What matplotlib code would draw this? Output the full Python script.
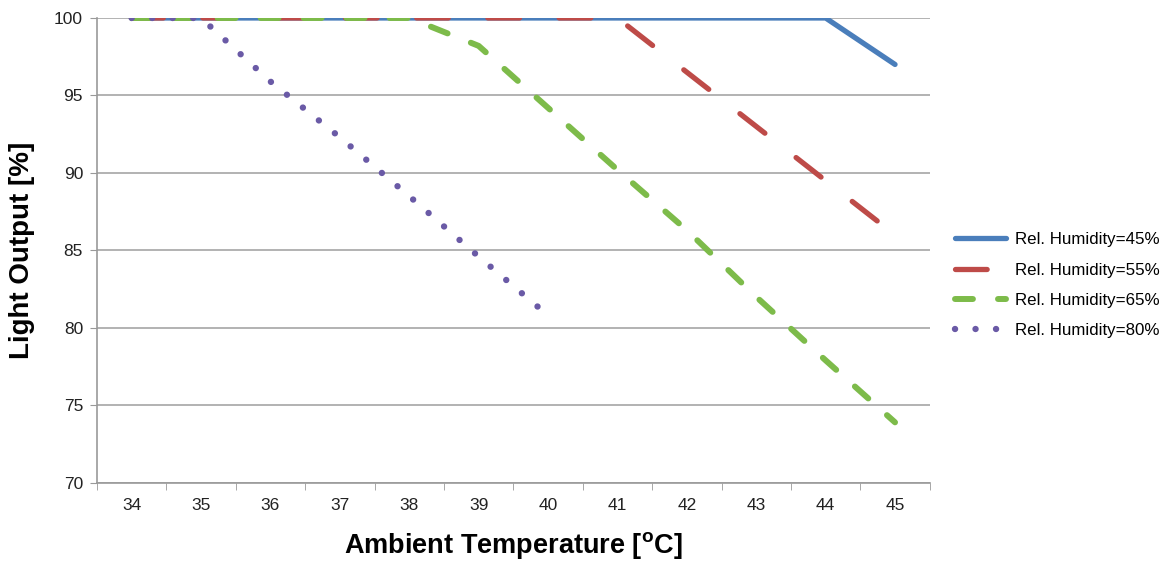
import matplotlib.pyplot as plt
from matplotlib.ticker import FixedLocator

plt.rcParams['font.family'] = ['Liberation Sans', 'DejaVu Sans']

temps = [34, 35, 36, 37, 38, 39, 40, 41, 42, 43, 44, 45]
rh45 = [100, 100, 100, 100, 100, 100, 100, 100, 100, 100, 100, 97.0]
rh55 = [100, 100, 100, 100, 100, 100, 100, 100, 96.5, 93.0, 89.5, 86.0]
rh65 = [100, 100, 100, 100, 100, 98.2, 94.2, 90.2, 86.3, 82.0, 77.9, 73.9]
temps80 = [34, 35, 36, 37, 38, 39, 40]
rh80 = [100, 100, 95.9, 92.3, 88.5, 84.6, 80.8]
labels = ['Rel. Humidity=45%', 'Rel. Humidity=55%',
          'Rel. Humidity=65%', 'Rel. Humidity=80%']

fig = plt.figure(figsize=(11.68, 5.62), dpi=100)
ax = fig.add_axes([0.083, 0.141, 0.713, 0.827])

ax.plot(temps, rh45, color='#4a7ebb', lw=3.8, solid_capstyle='round',
        label=labels[0], zorder=3)
ax.plot(temps, rh55, color='#be4b48', lw=3.8, dash_capstyle='round',
        dashes=(6, 7.5), label=labels[1], zorder=4)
ax.plot(temps, rh65, color='#7dbb4a', lw=4.3, dash_capstyle='round',
        dashes=(3, 4.2), label=labels[2], zorder=5)
ax.plot(temps80, rh80, color='#6a5aa6', lw=4.6, dash_capstyle='round',
        dashes=(0.01, 3.2), label=labels[3], zorder=6)

ax.set_xlim(33.5, 45.5)
ax.set_ylim(70, 100)
ax.set_yticks(range(70, 101, 5))
ax.set_xticks(temps)
ax.xaxis.set_minor_locator(FixedLocator([t + 0.5 for t in range(33, 46)]))
ax.tick_params(axis='x', which='major', length=0, pad=11, labelsize=12.5,
               colors='#222222')
ax.tick_params(axis='x', which='minor', length=5, color='#999999')
ax.tick_params(axis='y', length=5, color='#999999', labelsize=12.5,
               labelcolor='#222222', pad=5)

ax.grid(axis='y', color='#a6a6a6', lw=1.2, zorder=0)
for s in ['top', 'right']:
    ax.spines[s].set_visible(False)
for s in ['left', 'bottom']:
    ax.spines[s].set_color('#999999')
    ax.spines[s].set_linewidth(1.2)

ax.set_xlabel('Ambient Temperature [$^{\\mathregular{o}}$C]', fontsize=19.5,
              fontweight='bold', labelpad=12)
ax.set_ylabel('Light Output [%]', fontsize=20, fontweight='bold', labelpad=14)

ax.legend(loc='center left', bbox_to_anchor=(1.03, 0.425), frameon=False,
          fontsize=12.2, handlelength=3.0, handletextpad=0.55,
          labelspacing=0.9, borderpad=0, borderaxespad=0)

fig.savefig('out.png', dpi=100)
